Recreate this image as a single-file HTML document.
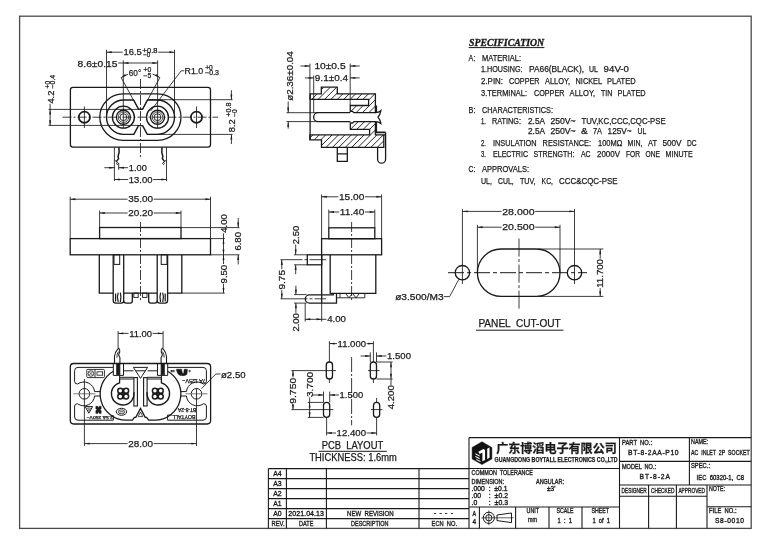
<!DOCTYPE html>
<html lang="zh">
<head>
<meta charset="utf-8">
<title>BT-8-2AA-P10 AC INLET 2P SOCKET</title>
<style>
html,body{margin:0;padding:0;background:#fff;}
body{width:770px;height:544px;overflow:hidden;}
svg{display:block;filter:grayscale(1);}
svg text{font-family:"Liberation Sans","Noto Sans CJK SC",sans-serif;fill:#1a1a1a;stroke:#1a1a1a;stroke-width:0.25px;white-space:pre;}
svg .cn{font-family:"Liberation Sans","Noto Sans CJK SC",sans-serif;font-weight:700;}
svg .tb{stroke-width:0.34px;}
svg .sp{font-family:"Liberation Serif",serif;font-weight:700;font-style:italic;stroke-width:0.35px;}
</style>
</head>
<body>
<svg xml:space="preserve" width="770" height="544" viewBox="0 0 770 544" stroke="#1a1a1a" fill="none" stroke-linecap="butt">
<rect x="0" y="0" width="770" height="544" fill="#ffffff" stroke="none"/>
<rect x="19.6" y="16.2" width="731.6" height="512.2" fill="none" stroke="#4a4a4a" stroke-width="1.3"/>
<g id="view-front">
<rect x="70.4" y="87.4" width="140.1" height="59.8" stroke-width="1.3" fill="none" rx="2.6"/>
<rect x="99.8" y="93.9" width="81.2" height="46.4" stroke-width="1.3" fill="none" rx="23.2"/>
<path d="M133.7,100 L123.7,100 A17.2,17.2 0 0 0 123.7,134.4 L133.8,134.4 L138.5,125.6 L142.6,125.6 L147.3,134.4 L157.3,134.4 A17.2,17.2 0 0 0 157.3,100 L147.4,100 L142.6,109.2 L138.5,109.2 Z" stroke-width="1.4" fill="none" stroke-linejoin="round"/>
<circle cx="123.4" cy="117.2" r="11" stroke-width="1.3" fill="none"/>
<circle cx="123.4" cy="117.2" r="7" stroke-width="1.35" fill="none"/>
<circle cx="123.4" cy="117.2" r="5.2" stroke-width="0.8" fill="none"/>
<circle cx="123.4" cy="117.2" r="3.4" stroke-width="0.9" fill="none"/>
<circle cx="157.5" cy="117.2" r="11" stroke-width="1.3" fill="none"/>
<circle cx="157.5" cy="117.2" r="7" stroke-width="1.35" fill="none"/>
<circle cx="157.5" cy="117.2" r="5.2" stroke-width="0.8" fill="none"/>
<circle cx="157.5" cy="117.2" r="3.4" stroke-width="0.9" fill="none"/>
<circle cx="84.4" cy="117.2" r="5.6" stroke-width="1.7" fill="none"/>
<line x1="84.4" y1="106.5" x2="84.4" y2="128" stroke-width="0.85"/>
<circle cx="196.5" cy="117.2" r="5.6" stroke-width="1.7" fill="none"/>
<line x1="196.5" y1="106.5" x2="196.5" y2="128" stroke-width="0.85"/>
<line x1="62.5" y1="117.2" x2="218" y2="117.2" stroke-width="0.85" stroke-dasharray="9 2 2 2"/>
<line x1="140.5" y1="79" x2="140.5" y2="157.5" stroke-width="0.85" stroke-dasharray="10 2 2 2"/>
<line x1="106.5" y1="49.8" x2="106.5" y2="117.2" stroke-width="0.85"/>
<line x1="174.5" y1="49.8" x2="174.5" y2="117.2" stroke-width="0.85"/>
<line x1="106.5" y1="52.2" x2="122.8" y2="52.2" stroke-width="0.85"/>
<line x1="158.2" y1="52.2" x2="174.5" y2="52.2" stroke-width="0.85"/>
<polygon points="106.5,52.2 111.7,51.25 111.7,53.15" fill="#1a1a1a" stroke="none"/>
<polygon points="174.5,52.2 169.3,53.15 169.3,51.25" fill="#1a1a1a" stroke="none"/>
<text x="123.5" y="55.3" font-size="9.6" textLength="18.3" lengthAdjust="spacingAndGlyphs">16.5</text>
<text x="142.6" y="52.5" font-size="6.4" textLength="14.8" lengthAdjust="spacingAndGlyphs">+0.8</text>
<text x="143.2" y="57.2" font-size="6.4" textLength="7.2" lengthAdjust="spacingAndGlyphs">−0</text>
<text x="77.6" y="66.5" font-size="9.6" textLength="39.9" lengthAdjust="spacingAndGlyphs">8.6±0.15</text>
<line x1="118.2" y1="63" x2="157.6" y2="63" stroke-width="0.85"/>
<line x1="123.3" y1="60.4" x2="123.3" y2="128.6" stroke-width="0.85"/>
<line x1="157.6" y1="60.4" x2="157.6" y2="128.6" stroke-width="0.85"/>
<polygon points="123.3,63 128.5,62.05 128.5,63.95" fill="#1a1a1a" stroke="none"/>
<polygon points="157.6,63 152.4,63.95 152.4,62.05" fill="#1a1a1a" stroke="none"/>
<path d="M121.2,77.6 A36.9,36.9 0 0 1 128,74.3" stroke-width="0.85" fill="none"/>
<path d="M152.6,74.1 A36.9,36.9 0 0 1 159.9,77.6" stroke-width="0.85" fill="none"/>
<polygon points="121.2,77.6 125.13,74.07 126.13,75.68" fill="#1a1a1a" stroke="none"/>
<polygon points="159.9,77.6 154.97,75.68 155.97,74.07" fill="#1a1a1a" stroke="none"/>
<line x1="121.2" y1="77.6" x2="138.5" y2="109.2" stroke-width="0.85"/>
<line x1="159.9" y1="77.6" x2="142.6" y2="109.2" stroke-width="0.85"/>
<text x="128.8" y="76.2" font-size="9.6" textLength="12.4" lengthAdjust="spacingAndGlyphs">60°</text>
<text x="143.4" y="72.4" font-size="6.4" textLength="7.8" lengthAdjust="spacingAndGlyphs">+0</text>
<text x="143.4" y="78.2" font-size="6.4" textLength="7.8" lengthAdjust="spacingAndGlyphs">−5</text>
<line x1="150.6" y1="111" x2="181.2" y2="70.8" stroke-width="0.85"/>
<line x1="181.2" y1="70.8" x2="184.2" y2="70.8" stroke-width="0.85"/>
<text x="184.6" y="74" font-size="9.6" textLength="18.6" lengthAdjust="spacingAndGlyphs">R1.0</text>
<text x="205.2" y="69.5" font-size="6.4" textLength="7.6" lengthAdjust="spacingAndGlyphs">+0</text>
<text x="205.2" y="75.2" font-size="6.4" textLength="13.8" lengthAdjust="spacingAndGlyphs">−0.3</text>
<line x1="48.5" y1="109.4" x2="138.5" y2="109.4" stroke-width="0.85"/>
<line x1="48.5" y1="125.4" x2="138.5" y2="125.4" stroke-width="0.85"/>
<line x1="50.1" y1="103.8" x2="50.1" y2="125.4" stroke-width="0.85"/>
<polygon points="50.1,109.4 51.05,114.6 49.15,114.6" fill="#1a1a1a" stroke="none"/>
<polygon points="50.1,125.4 49.15,120.2 51.05,120.2" fill="#1a1a1a" stroke="none"/>
<text x="53.6" y="103.6" font-size="9.6" textLength="13" lengthAdjust="spacingAndGlyphs" transform="rotate(-90 53.6 103.6)">4.2</text>
<text x="49.6" y="88.4" font-size="6.4" textLength="7.6" lengthAdjust="spacingAndGlyphs" transform="rotate(-90 49.6 88.4)">+0</text>
<text x="54.8" y="88.4" font-size="6.4" textLength="13.6" lengthAdjust="spacingAndGlyphs" transform="rotate(-90 54.8 88.4)">−0.4</text>
<line x1="147.4" y1="99.7" x2="232.6" y2="99.7" stroke-width="0.85"/>
<line x1="147.3" y1="134.4" x2="232.6" y2="134.4" stroke-width="0.85"/>
<line x1="231.4" y1="90.2" x2="231.4" y2="99.7" stroke-width="0.85"/>
<line x1="231.4" y1="134.4" x2="231.4" y2="144" stroke-width="0.85"/>
<polygon points="231.4,99.7 230.45,94.5 232.35,94.5" fill="#1a1a1a" stroke="none"/>
<polygon points="231.4,134.4 232.35,139.6 230.45,139.6" fill="#1a1a1a" stroke="none"/>
<text x="234.7" y="132.2" font-size="9.6" textLength="13" lengthAdjust="spacingAndGlyphs" transform="rotate(-90 234.7 132.2)">8.2</text>
<text x="231.2" y="116.8" font-size="6.4" textLength="14.2" lengthAdjust="spacingAndGlyphs" transform="rotate(-90 231.2 116.8)">+0.8</text>
<text x="237" y="116.8" font-size="6.4" textLength="7.6" lengthAdjust="spacingAndGlyphs" transform="rotate(-90 237 116.8)">−0</text>
<line x1="114.4" y1="147.2" x2="114.4" y2="181" stroke-width="0.85"/>
<line x1="166.5" y1="147.2" x2="166.5" y2="181" stroke-width="0.85"/>
<path d="M118.9,147.2 L119.1,152.5 L118,156.5 L118.6,158.6 L116.4,161.4" stroke-width="1.5" fill="none"/>
<path d="M114.6,160.2 L117.4,162.2 L118.4,163.4 L117.4,164.6 L116.4,163.4 L117.4,162.2" stroke-width="0.9" fill="none"/>
<path d="M162.0,147.2 L161.8,152.5 L162.9,156.5 L162.3,158.6 L164.5,161.4" stroke-width="1.5" fill="none"/>
<path d="M166.3,160.2 L163.5,162.2 L162.5,163.4 L163.5,164.6 L164.5,163.4 L163.5,162.2" stroke-width="0.9" fill="none"/>
<line x1="118.7" y1="163" x2="118.7" y2="169.8" stroke-width="0.85"/>
<line x1="104.3" y1="167.7" x2="114.4" y2="167.7" stroke-width="0.85"/>
<polygon points="114.4,167.7 109.2,168.65 109.2,166.75" fill="#1a1a1a" stroke="none"/>
<line x1="118.7" y1="167.7" x2="128" y2="167.7" stroke-width="0.85"/>
<polygon points="118.7,167.7 123.9,166.75 123.9,168.65" fill="#1a1a1a" stroke="none"/>
<text x="128.8" y="170.7" font-size="9.6" textLength="18" lengthAdjust="spacingAndGlyphs">1.00</text>
<line x1="114.4" y1="179.5" x2="128.2" y2="179.5" stroke-width="0.85"/>
<line x1="153.2" y1="179.5" x2="166.5" y2="179.5" stroke-width="0.85"/>
<polygon points="114.4,179.5 119.6,178.55 119.6,180.45" fill="#1a1a1a" stroke="none"/>
<polygon points="166.5,179.5 161.3,180.45 161.3,178.55" fill="#1a1a1a" stroke="none"/>
<text x="128.8" y="182.6" font-size="9.6" textLength="23.8" lengthAdjust="spacingAndGlyphs">13.00</text>
</g>
<g id="view-section">
<clipPath id="hc1"><path d="M310.1,93.9 L321.3,93.9 L321.3,87.2 L337.3,87.2 L337.3,93.9 L375.4,93.9 L375.4,112.7 L354,112.7 L352.5,111.4 L350.3,111.4 L350.3,105.5 L368.6,105.5 L368.6,99.4 L310.1,99.4 Z"/></clipPath>
<path d="M279.2,112.7 L304.7,87.2 M285.6,112.7 L311.1,87.2 M292,112.7 L317.5,87.2 M298.4,112.7 L323.9,87.2 M304.8,112.7 L330.3,87.2 M311.2,112.7 L336.7,87.2 M317.6,112.7 L343.1,87.2 M324,112.7 L349.5,87.2 M330.4,112.7 L355.9,87.2 M336.8,112.7 L362.3,87.2 M343.2,112.7 L368.7,87.2 M349.6,112.7 L375.1,87.2 M356,112.7 L381.5,87.2 M362.4,112.7 L387.9,87.2 M368.8,112.7 L394.3,87.2 M375.2,112.7 L400.7,87.2 M381.6,112.7 L407.1,87.2" stroke-width="0.95" clip-path="url(#hc1)"/>
<path d="M310.1,93.9 L321.3,93.9 L321.3,87.2 L337.3,87.2 L337.3,93.9 L375.4,93.9 L375.4,112.7 L354,112.7 L352.5,111.4 L350.3,111.4 L350.3,105.5 L368.6,105.5 L368.6,99.4 L310.1,99.4 Z" stroke-width="1.3" stroke-linejoin="miter"/>
<clipPath id="hc2"><path d="M354,121.6 L375.4,121.6 L375.4,134.9 L383.8,134.9 L383.8,147.3 L321.5,147.3 L321.5,139.9 L309.9,139.9 L309.9,134.9 L369.6,134.9 L369.6,129.4 L350.3,129.4 L350.3,123 L352.5,123 Z"/></clipPath>
<path d="M281.3,147.3 L307,121.6 M287.7,147.3 L313.4,121.6 M294.1,147.3 L319.8,121.6 M300.5,147.3 L326.2,121.6 M306.9,147.3 L332.6,121.6 M313.3,147.3 L339,121.6 M319.7,147.3 L345.4,121.6 M326.1,147.3 L351.8,121.6 M332.5,147.3 L358.2,121.6 M338.9,147.3 L364.6,121.6 M345.3,147.3 L371,121.6 M351.7,147.3 L377.4,121.6 M358.1,147.3 L383.8,121.6 M364.5,147.3 L390.2,121.6 M370.9,147.3 L396.6,121.6 M377.3,147.3 L403,121.6 M383.7,147.3 L409.4,121.6 M390.1,147.3 L415.8,121.6" stroke-width="0.95" clip-path="url(#hc2)"/>
<path d="M354,121.6 L375.4,121.6 L375.4,134.9 L383.8,134.9 L383.8,147.3 L321.5,147.3 L321.5,139.9 L309.9,139.9 L309.9,134.9 L369.6,134.9 L369.6,129.4 L350.3,129.4 L350.3,123 L352.5,123 Z" stroke-width="1.3" stroke-linejoin="miter"/>
<line x1="310.1" y1="93.9" x2="310.1" y2="139.9" stroke-width="1.3"/>
<path d="M350.3,112.7 L318.1,112.7 A4.45,4.45 0 0 0 318.1,121.6 L350.3,121.6" stroke-width="1.3" fill="none"/>
<path d="M375.4,112.7 C377.8,112.7 379.3,112.2 380.8,110.8 C380.3,113.6 379.3,115.7 378,117.1 C379.3,118.5 380.3,120.7 380.8,123.4 C379.3,122.1 377.8,121.6 375.4,121.6" stroke-width="1.3" fill="none"/>
<path d="M376.2,105.5 L376.2,112.2 M376.2,122 L376.2,132.4 L385.6,132.4" stroke-width="1.8" fill="none"/>
<path d="M337.3,147.3 L337.3,161.4 L347.3,161.4 L347.3,147.3 M337.3,153.8 L347.3,153.8" stroke-width="1.3" fill="none"/>
<path d="M377.6,147.3 L377.6,159.2 A4,4 0 0 0 385.6,159.2 L385.6,132.4" stroke-width="1.3" fill="none"/>
<line x1="383.8" y1="134.9" x2="385.6" y2="134.9" stroke-width="1.3"/>
<line x1="286.5" y1="112.7" x2="318" y2="112.7" stroke-width="0.85"/>
<line x1="286.5" y1="121.6" x2="318" y2="121.6" stroke-width="0.85"/>
<line x1="288.2" y1="101.5" x2="288.2" y2="112.7" stroke-width="0.85"/>
<line x1="288.2" y1="121.6" x2="288.2" y2="128.6" stroke-width="0.85"/>
<polygon points="288.2,112.7 287.25,107.5 289.15,107.5" fill="#1a1a1a" stroke="none"/>
<polygon points="288.2,121.6 289.15,126.8 287.25,126.8" fill="#1a1a1a" stroke="none"/>
<text x="293.2" y="100.8" font-size="9.6" textLength="49.6" lengthAdjust="spacingAndGlyphs" transform="rotate(-90 293.2 100.8)">ø2.36±0.04</text>
<line x1="309.9" y1="63.6" x2="309.9" y2="93.9" stroke-width="0.85"/>
<line x1="350.2" y1="63.6" x2="350.2" y2="105.5" stroke-width="0.85"/>
<line x1="300.4" y1="66" x2="309.9" y2="66" stroke-width="0.85"/>
<line x1="350.2" y1="66" x2="359.7" y2="66" stroke-width="0.85"/>
<polygon points="309.9,66 304.7,66.95 304.7,65.05" fill="#1a1a1a" stroke="none"/>
<polygon points="350.2,66 355.4,65.05 355.4,66.95" fill="#1a1a1a" stroke="none"/>
<text x="314.4" y="69" font-size="9.6" textLength="31.2" lengthAdjust="spacingAndGlyphs">10±0.5</text>
<line x1="313.7" y1="75.5" x2="313.7" y2="113" stroke-width="0.85"/>
<line x1="305" y1="77.9" x2="313.7" y2="77.9" stroke-width="0.85"/>
<line x1="350.2" y1="77.9" x2="359.7" y2="77.9" stroke-width="0.85"/>
<polygon points="313.7,77.9 308.5,78.85 308.5,76.95" fill="#1a1a1a" stroke="none"/>
<polygon points="350.2,77.9 355.4,76.95 355.4,78.85" fill="#1a1a1a" stroke="none"/>
<text x="314.8" y="80.9" font-size="9.6" textLength="33.4" lengthAdjust="spacingAndGlyphs">9.1±0.4</text>
</g>
<g id="view-top">
<rect x="99.6" y="227.5" width="81.4" height="11.1" stroke-width="1.3" fill="none"/>
<rect x="70.2" y="238.6" width="140.3" height="16.2" stroke-width="1.3" fill="none"/>
<path d="M99.3,254.8 L99.3,293.1 L113.2,293.1 M113.2,254.8 L113.2,300.5 Q113.2,303.1 115.8,303.1 L121.2,303.1 Q123.7,303.1 123.7,300.5 M123.7,254.8 L123.7,300.5 Q123.7,303.1 126.3,303.1 L130.2,303.1 Q132.3,303.1 132.3,301 L132.3,293.1 M148.7,293.1 L148.7,301 Q148.7,303.1 150.8,303.1 L154.6,303.1 Q157.2,303.1 157.2,300.5 L157.2,254.8 M157.2,300.5 Q157.2,303.1 159.8,303.1 L165,303.1 Q167.6,303.1 167.6,300.5 L167.6,254.8 M167.6,293.1 L181.8,293.1 L181.8,254.8 M123.7,293.1 L157.2,293.1" stroke-width="1.3" fill="none"/>
<rect x="114" y="254.8" width="5.7" height="9.6" stroke-width="1" fill="none"/>
<rect x="161.2" y="254.8" width="5.8" height="9.6" stroke-width="1" fill="none"/>
<rect x="133.8" y="293.1" width="4.4" height="4.3" stroke-width="0.9" fill="none"/>
<rect x="142.6" y="293.1" width="4.4" height="4.3" stroke-width="0.9" fill="none"/>
<path d="M115.6,293.4 L115.6,301.5 M118.2,292.6 Q116.6,297 118.2,302 M120.3,292.6 Q121.6,297 120.3,302" stroke-width="1.2" fill="none"/>
<path d="M165.2,293.4 L165.2,301.5 M162.7,292.6 Q164.2,297 162.7,302 M160.6,292.6 Q159.3,297 160.6,302" stroke-width="1.2" fill="none"/>
<line x1="140.5" y1="222" x2="140.5" y2="300.5" stroke-width="0.85" stroke-dasharray="10 2 2 2"/>
<line x1="70.2" y1="196.8" x2="70.2" y2="238.6" stroke-width="0.85"/>
<line x1="210.5" y1="196.8" x2="210.5" y2="238.6" stroke-width="0.85"/>
<line x1="70.2" y1="199.2" x2="127.6" y2="199.2" stroke-width="0.85"/>
<line x1="153.6" y1="199.2" x2="210.5" y2="199.2" stroke-width="0.85"/>
<polygon points="70.2,199.2 75.4,198.25 75.4,200.15" fill="#1a1a1a" stroke="none"/>
<polygon points="210.5,199.2 205.3,200.15 205.3,198.25" fill="#1a1a1a" stroke="none"/>
<text x="128.2" y="202.3" font-size="9.6" textLength="24.8" lengthAdjust="spacingAndGlyphs">35.00</text>
<line x1="99.6" y1="210.6" x2="99.6" y2="227.5" stroke-width="0.85"/>
<line x1="181" y1="210.6" x2="181" y2="227.5" stroke-width="0.85"/>
<line x1="99.6" y1="213" x2="127.6" y2="213" stroke-width="0.85"/>
<line x1="153.6" y1="213" x2="181" y2="213" stroke-width="0.85"/>
<polygon points="99.6,213 104.8,212.05 104.8,213.95" fill="#1a1a1a" stroke="none"/>
<polygon points="181,213 175.8,213.95 175.8,212.05" fill="#1a1a1a" stroke="none"/>
<text x="128.2" y="216.1" font-size="9.6" textLength="24.8" lengthAdjust="spacingAndGlyphs">20.20</text>
<line x1="181" y1="227.6" x2="239.5" y2="227.6" stroke-width="0.85"/>
<line x1="210.5" y1="238.6" x2="224.8" y2="238.6" stroke-width="0.85"/>
<line x1="210.5" y1="254.8" x2="239.5" y2="254.8" stroke-width="0.85"/>
<line x1="181.8" y1="293.1" x2="224.8" y2="293.1" stroke-width="0.85"/>
<line x1="223.5" y1="233.4" x2="223.5" y2="264" stroke-width="0.85"/>
<line x1="223.5" y1="283.8" x2="223.5" y2="293.1" stroke-width="0.85"/>
<polygon points="223.5,238.6 224.45,243.8 222.55,243.8" fill="#1a1a1a" stroke="none"/>
<polygon points="223.5,254.8 222.55,249.6 224.45,249.6" fill="#1a1a1a" stroke="none"/>
<polygon points="223.5,254.8 224.45,260 222.55,260" fill="#1a1a1a" stroke="none"/>
<polygon points="223.5,293.1 222.55,287.9 224.45,287.9" fill="#1a1a1a" stroke="none"/>
<text x="226.8" y="232.8" font-size="9.6" textLength="18.6" lengthAdjust="spacingAndGlyphs" transform="rotate(-90 226.8 232.8)">4.00</text>
<text x="226.8" y="283.4" font-size="9.6" textLength="18.6" lengthAdjust="spacingAndGlyphs" transform="rotate(-90 226.8 283.4)">9.50</text>
<line x1="238.2" y1="218" x2="238.2" y2="227.6" stroke-width="0.85"/>
<line x1="238.2" y1="254.8" x2="238.2" y2="264.4" stroke-width="0.85"/>
<polygon points="238.2,227.6 237.25,222.4 239.15,222.4" fill="#1a1a1a" stroke="none"/>
<polygon points="238.2,254.8 239.15,260 237.25,260" fill="#1a1a1a" stroke="none"/>
<text x="241.4" y="250.6" font-size="9.6" textLength="18.6" lengthAdjust="spacingAndGlyphs" transform="rotate(-90 241.4 250.6)">6.80</text>
</g>
<g id="view-side">
<rect x="328.8" y="227.8" width="46" height="10.9" stroke-width="1.3" fill="none"/>
<rect x="321.6" y="238.7" width="60" height="16.1" stroke-width="1.3" fill="none"/>
<path d="M330.2,254.8 L330.2,293.3 L375.8,293.3 L375.8,254.8" stroke-width="1.3" fill="none"/>
<line x1="321.7" y1="254.8" x2="321.7" y2="303.1" stroke-width="1.3"/>
<rect x="307.3" y="254.8" width="14.4" height="10" stroke-width="1.3" fill="none"/>
<path d="M321.7,303.1 L309.4,303.1 A4.1,4.1 0 0 1 309.4,294.9 L333.3,294.9 L333.3,293.3 M336.5,293.3 L336.5,303.1 L321.7,303.1" stroke-width="1.3" fill="none"/>
<path d="M336.5,297.8 L364.8,297.8 L364.8,293.3 M340,293.3 L340,297.8 M345.5,293.3 L349,297.8 L352.5,293.3 M352.5,293.3 L356,297.8 L359.5,293.3" stroke-width="0.9" fill="none"/>
<line x1="351.6" y1="222" x2="351.6" y2="302" stroke-width="0.85" stroke-dasharray="10 2 2 2"/>
<line x1="280.5" y1="259.7" x2="326" y2="259.7" stroke-width="0.85" stroke-dasharray="22 2 3 2"/>
<line x1="280.5" y1="298.8" x2="326" y2="298.8" stroke-width="0.85" stroke-dasharray="27 2 3 2"/>
<line x1="321.6" y1="194.4" x2="321.6" y2="238.7" stroke-width="0.85"/>
<line x1="381.6" y1="194.4" x2="381.6" y2="238.7" stroke-width="0.85"/>
<line x1="321.6" y1="196.8" x2="338.4" y2="196.8" stroke-width="0.85"/>
<line x1="364.9" y1="196.8" x2="381.6" y2="196.8" stroke-width="0.85"/>
<polygon points="321.6,196.8 326.8,195.85 326.8,197.75" fill="#1a1a1a" stroke="none"/>
<polygon points="381.6,196.8 376.4,197.75 376.4,195.85" fill="#1a1a1a" stroke="none"/>
<text x="339" y="199.9" font-size="9.6" textLength="25.3" lengthAdjust="spacingAndGlyphs">15.00</text>
<line x1="328.8" y1="209.6" x2="328.8" y2="227.8" stroke-width="0.85"/>
<line x1="374.8" y1="209.6" x2="374.8" y2="227.8" stroke-width="0.85"/>
<line x1="328.8" y1="212" x2="339.2" y2="212" stroke-width="0.85"/>
<line x1="364.9" y1="212" x2="374.8" y2="212" stroke-width="0.85"/>
<polygon points="328.8,212 334,211.05 334,212.95" fill="#1a1a1a" stroke="none"/>
<polygon points="374.8,212 369.6,212.95 369.6,211.05" fill="#1a1a1a" stroke="none"/>
<text x="339.8" y="215.1" font-size="9.6" textLength="24.5" lengthAdjust="spacingAndGlyphs">11.40</text>
<line x1="294" y1="254.8" x2="307.3" y2="254.8" stroke-width="0.85"/>
<line x1="294" y1="264.8" x2="307.3" y2="264.8" stroke-width="0.85"/>
<line x1="295.7" y1="244.6" x2="295.7" y2="254.8" stroke-width="0.85"/>
<line x1="295.7" y1="264.8" x2="295.7" y2="274.2" stroke-width="0.85"/>
<polygon points="295.7,254.8 294.75,249.6 296.65,249.6" fill="#1a1a1a" stroke="none"/>
<polygon points="295.7,264.8 296.65,270 294.75,270" fill="#1a1a1a" stroke="none"/>
<text x="298.9" y="244.2" font-size="9.6" textLength="18.4" lengthAdjust="spacingAndGlyphs" transform="rotate(-90 298.9 244.2)">2.50</text>
<line x1="281.8" y1="259.7" x2="281.8" y2="269.2" stroke-width="0.85"/>
<line x1="281.8" y1="290" x2="281.8" y2="298.8" stroke-width="0.85"/>
<polygon points="281.8,259.7 282.75,264.9 280.85,264.9" fill="#1a1a1a" stroke="none"/>
<polygon points="281.8,298.8 280.85,293.6 282.75,293.6" fill="#1a1a1a" stroke="none"/>
<text x="285" y="289.6" font-size="9.6" textLength="19.6" lengthAdjust="spacingAndGlyphs" transform="rotate(-90 285 289.6)">9.75</text>
<line x1="294" y1="294.6" x2="306.5" y2="294.6" stroke-width="0.85"/>
<line x1="294" y1="303.1" x2="306.5" y2="303.1" stroke-width="0.85"/>
<line x1="295.9" y1="285.6" x2="295.9" y2="294.6" stroke-width="0.85"/>
<line x1="295.9" y1="303.1" x2="295.9" y2="312.8" stroke-width="0.85"/>
<polygon points="295.9,294.6 294.95,289.4 296.85,289.4" fill="#1a1a1a" stroke="none"/>
<polygon points="295.9,303.1 296.85,308.3 294.95,308.3" fill="#1a1a1a" stroke="none"/>
<text x="299.1" y="331.6" font-size="9.6" textLength="18.4" lengthAdjust="spacingAndGlyphs" transform="rotate(-90 299.1 331.6)">2.00</text>
<line x1="305.2" y1="303.1" x2="305.2" y2="321.6" stroke-width="0.85"/>
<line x1="321.7" y1="303.1" x2="321.7" y2="321.6" stroke-width="0.85"/>
<line x1="305.2" y1="319.3" x2="326.4" y2="319.3" stroke-width="0.85"/>
<polygon points="305.2,319.3 310.4,318.35 310.4,320.25" fill="#1a1a1a" stroke="none"/>
<polygon points="321.7,319.3 316.5,320.25 316.5,318.35" fill="#1a1a1a" stroke="none"/>
<text x="327.2" y="322.3" font-size="9.6" textLength="18.8" lengthAdjust="spacingAndGlyphs">4.00</text>
</g>
<g id="view-panel">
<rect x="477.4" y="249" width="82.6" height="47.4" stroke-width="1.3" fill="none" rx="23.7"/>
<circle cx="462.4" cy="272.7" r="7.2" stroke-width="1.3" fill="none"/>
<circle cx="574.5" cy="272.7" r="7.2" stroke-width="1.3" fill="none"/>
<line x1="448" y1="272.7" x2="587" y2="272.7" stroke-width="1" stroke-dasharray="16 3 4 3"/>
<line x1="519" y1="238.6" x2="519" y2="309.6" stroke-width="0.85" stroke-dasharray="18 2.5 3 2.5"/>
<line x1="462.4" y1="209" x2="462.4" y2="284" stroke-width="0.85"/>
<line x1="574.5" y1="209" x2="574.5" y2="284" stroke-width="0.85"/>
<line x1="462.4" y1="211.4" x2="501.6" y2="211.4" stroke-width="0.85"/>
<line x1="535.2" y1="211.4" x2="574.5" y2="211.4" stroke-width="0.85"/>
<polygon points="462.4,211.4 467.6,210.45 467.6,212.35" fill="#1a1a1a" stroke="none"/>
<polygon points="574.5,211.4 569.3,212.35 569.3,210.45" fill="#1a1a1a" stroke="none"/>
<text x="502.2" y="214.5" font-size="9.6" textLength="32.4" lengthAdjust="spacingAndGlyphs">28.000</text>
<line x1="477.4" y1="224.8" x2="477.4" y2="272.7" stroke-width="0.85"/>
<line x1="560" y1="224.8" x2="560" y2="272.7" stroke-width="0.85"/>
<line x1="477.4" y1="227.2" x2="501.6" y2="227.2" stroke-width="0.85"/>
<line x1="535.2" y1="227.2" x2="560" y2="227.2" stroke-width="0.85"/>
<polygon points="477.4,227.2 482.6,226.25 482.6,228.15" fill="#1a1a1a" stroke="none"/>
<polygon points="560,227.2 554.8,228.15 554.8,226.25" fill="#1a1a1a" stroke="none"/>
<text x="502.2" y="230.3" font-size="9.6" textLength="32.4" lengthAdjust="spacingAndGlyphs">20.500</text>
<line x1="538" y1="249" x2="603.4" y2="249" stroke-width="0.85"/>
<line x1="538" y1="296.4" x2="603.4" y2="296.4" stroke-width="0.85"/>
<line x1="600.2" y1="249" x2="600.2" y2="258.6" stroke-width="0.85"/>
<line x1="600.2" y1="288.2" x2="600.2" y2="296.4" stroke-width="0.85"/>
<polygon points="600.2,249 601.15,254.2 599.25,254.2" fill="#1a1a1a" stroke="none"/>
<polygon points="600.2,296.4 599.25,291.2 601.15,291.2" fill="#1a1a1a" stroke="none"/>
<text x="603.3" y="287.8" font-size="9.6" textLength="28.8" lengthAdjust="spacingAndGlyphs" transform="rotate(-90 603.3 287.8)">11.700</text>
<text x="395.2" y="299.5" font-size="9.6" textLength="48.4" lengthAdjust="spacingAndGlyphs">ø3.500/M3</text>
<path d="M443.8,296.6 L449.6,296.6 L458.8,279.4" stroke-width="0.85" fill="none"/>
<text x="478.4" y="326.7" font-size="10.2" textLength="82.4" lengthAdjust="spacingAndGlyphs">PANEL  CUT-OUT</text>
<line x1="476" y1="330.2" x2="563.4" y2="330.2" stroke-width="1"/>
</g>
<g id="view-pcb">
<rect x="326.3" y="362" width="6.2" height="17" stroke-width="1.3" fill="none" rx="3.1"/>
<rect x="370.3" y="362" width="6.2" height="17" stroke-width="1.3" fill="none" rx="3.1"/>
<rect x="323.5" y="402.4" width="6.2" height="15" stroke-width="1.3" fill="none" rx="3.1"/>
<rect x="373.5" y="402.4" width="6.2" height="15" stroke-width="1.3" fill="none" rx="3.1"/>
<line x1="351.6" y1="357" x2="351.6" y2="425.4" stroke-width="0.85" stroke-dasharray="15 2 2 2"/>
<line x1="322" y1="370.6" x2="336" y2="370.6" stroke-width="0.85"/>
<line x1="368" y1="370.6" x2="379.6" y2="370.6" stroke-width="0.85"/>
<line x1="320" y1="409.6" x2="333.4" y2="409.6" stroke-width="0.85"/>
<line x1="371" y1="409.6" x2="382.4" y2="409.6" stroke-width="0.85"/>
<line x1="329.4" y1="341.2" x2="329.4" y2="362" stroke-width="0.85"/>
<line x1="329.4" y1="379" x2="329.4" y2="383" stroke-width="0.85"/>
<line x1="373.4" y1="341.2" x2="373.4" y2="362" stroke-width="0.85"/>
<line x1="373.4" y1="379" x2="373.4" y2="383" stroke-width="0.85"/>
<line x1="376.6" y1="398" x2="376.6" y2="402.4" stroke-width="0.85"/>
<line x1="376.6" y1="417.4" x2="376.6" y2="435.4" stroke-width="0.85"/>
<line x1="326.6" y1="417.4" x2="326.6" y2="435.4" stroke-width="0.85"/>
<line x1="329.4" y1="343.6" x2="337" y2="343.6" stroke-width="0.85"/>
<line x1="366.6" y1="343.6" x2="373.4" y2="343.6" stroke-width="0.85"/>
<polygon points="329.4,343.6 334.6,342.65 334.6,344.55" fill="#1a1a1a" stroke="none"/>
<polygon points="373.4,343.6 368.2,344.55 368.2,342.65" fill="#1a1a1a" stroke="none"/>
<text x="337.6" y="346.7" font-size="9.6" textLength="28.4" lengthAdjust="spacingAndGlyphs">11.000</text>
<line x1="326.6" y1="433" x2="336" y2="433" stroke-width="0.85"/>
<line x1="366.6" y1="433" x2="376.6" y2="433" stroke-width="0.85"/>
<polygon points="326.6,433 331.8,432.05 331.8,433.95" fill="#1a1a1a" stroke="none"/>
<polygon points="376.6,433 371.4,433.95 371.4,432.05" fill="#1a1a1a" stroke="none"/>
<text x="336.6" y="436.1" font-size="9.6" textLength="29.4" lengthAdjust="spacingAndGlyphs">12.400</text>
<line x1="370.3" y1="352.4" x2="370.3" y2="362" stroke-width="0.85"/>
<line x1="376.5" y1="352.4" x2="376.5" y2="362" stroke-width="0.85"/>
<line x1="360.6" y1="356" x2="370.3" y2="356" stroke-width="0.85"/>
<polygon points="370.3,356 365.1,356.95 365.1,355.05" fill="#1a1a1a" stroke="none"/>
<line x1="376.5" y1="356" x2="386.4" y2="356" stroke-width="0.85"/>
<polygon points="376.5,356 381.7,355.05 381.7,356.95" fill="#1a1a1a" stroke="none"/>
<text x="387" y="359" font-size="9.6" textLength="24" lengthAdjust="spacingAndGlyphs">1.500</text>
<line x1="376.5" y1="362" x2="392.6" y2="362" stroke-width="0.85"/>
<line x1="376.5" y1="379" x2="392.6" y2="379" stroke-width="0.85"/>
<line x1="391" y1="362" x2="391" y2="385" stroke-width="0.85"/>
<polygon points="391,362 391.95,367.2 390.05,367.2" fill="#1a1a1a" stroke="none"/>
<polygon points="391,379 390.05,373.8 391.95,373.8" fill="#1a1a1a" stroke="none"/>
<text x="394.2" y="409.2" font-size="9.6" textLength="24" lengthAdjust="spacingAndGlyphs" transform="rotate(-90 394.2 409.2)">4.200</text>
<line x1="291.4" y1="370.6" x2="322" y2="370.6" stroke-width="0.85"/>
<line x1="291.4" y1="409.6" x2="320" y2="409.6" stroke-width="0.85"/>
<line x1="293" y1="370.6" x2="293" y2="377.4" stroke-width="0.85"/>
<line x1="293" y1="404" x2="293" y2="409.6" stroke-width="0.85"/>
<polygon points="293,370.6 293.95,375.8 292.05,375.8" fill="#1a1a1a" stroke="none"/>
<polygon points="293,409.6 292.05,404.4 293.95,404.4" fill="#1a1a1a" stroke="none"/>
<text x="296.4" y="403.8" font-size="9.6" textLength="26" lengthAdjust="spacingAndGlyphs" transform="rotate(-90 296.4 403.8)">9.750</text>
<line x1="307.8" y1="402.4" x2="323.5" y2="402.4" stroke-width="0.85"/>
<line x1="307.8" y1="417.4" x2="323.5" y2="417.4" stroke-width="0.85"/>
<line x1="309.6" y1="397.4" x2="309.6" y2="417.4" stroke-width="0.85"/>
<polygon points="309.6,402.4 310.55,407.6 308.65,407.6" fill="#1a1a1a" stroke="none"/>
<polygon points="309.6,417.4 308.65,412.2 310.55,412.2" fill="#1a1a1a" stroke="none"/>
<text x="312.8" y="397" font-size="9.6" textLength="25" lengthAdjust="spacingAndGlyphs" transform="rotate(-90 312.8 397)">3.700</text>
<line x1="323.5" y1="391.6" x2="323.5" y2="402.4" stroke-width="0.85"/>
<line x1="329.7" y1="391.6" x2="329.7" y2="402.4" stroke-width="0.85"/>
<line x1="313" y1="395" x2="323.5" y2="395" stroke-width="0.85"/>
<polygon points="323.5,395 318.3,395.95 318.3,394.05" fill="#1a1a1a" stroke="none"/>
<line x1="329.7" y1="395" x2="339" y2="395" stroke-width="0.85"/>
<polygon points="329.7,395 334.9,394.05 334.9,395.95" fill="#1a1a1a" stroke="none"/>
<text x="339.6" y="398" font-size="9.6" textLength="23.6" lengthAdjust="spacingAndGlyphs">1.500</text>
<text x="321.8" y="449" font-size="10.2" textLength="61.4" lengthAdjust="spacingAndGlyphs">PCB  LAYOUT</text>
<line x1="318.6" y1="451.3" x2="386.8" y2="451.3" stroke-width="1"/>
<text x="309.4" y="461.2" font-size="10.2" textLength="87.4" lengthAdjust="spacingAndGlyphs">THICKNESS: 1.6mm</text>
</g>
<g id="view-rear">
<rect x="70.3" y="363.5" width="140.3" height="60.5" stroke-width="1.3" fill="none" rx="3.4"/>
<path d="M113.2,367.4 L78,367.4 Q74.6,367.4 74.6,370.6 L74.6,381.6 Q74.8,384.2 77.6,384 A10.8,10.8 0 0 1 94.6,391.6 L100.6,391.6 M100.6,396 L94.6,396 A10.8,10.8 0 0 1 77.6,403.8 Q74.8,403.6 74.6,406 L74.6,417 Q74.6,420.2 78,420.2 L113.4,420.2 M167.7,367.4 L203,367.4 Q206.4,367.4 206.4,370.6 L206.4,381.6 Q206.2,384.2 203.4,384 A10.8,10.8 0 0 0 186.4,391.6 L180.4,391.6 M180.4,396 L186.4,396 A10.8,10.8 0 0 0 203.4,403.8 Q206.2,403.6 206.4,406 L206.4,417 Q206.4,420.2 203,420.2 L167.6,420.2" stroke-width="1" fill="none"/>
<path d="M113.4,371.2 A26.2,26.2 0 0 0 126.3,420.2 L132.4,420.2 L134.4,417.4 L135.8,417.4 L140.5,408.4 L145.2,417.4 L146.6,417.4 L148.6,420.2 L154.7,420.2 A26.2,26.2 0 0 0 167.6,371.2" stroke-width="1.3" fill="none"/>
<path d="M138.2,416.6 L140.5,412 L142.8,416.6 Z" stroke-width="0.8" fill="none"/>
<path d="M123.6,370.8 L133.4,370.8 M147.6,370.8 L157.4,370.8 M133.4,367.4 L147.6,367.4 L142.4,375.4 L140.5,378.4 L138.6,375.4 Z M135.6,370.8 L145.4,370.8" stroke-width="1" fill="none"/>
<path d="M119.6,375.4 L119.6,379 L133.9,379 M147.1,379 L161.4,379 L161.4,375.4 M119.6,377.3 L133.9,377.3 M147.1,377.3 L161.4,377.3" stroke-width="1" fill="none"/>
<path d="M119.6,379 L119.6,382.8 A11.3,11.3 0 1 0 133.9,392.1" stroke-width="1.3" fill="none"/>
<path d="M161.4,379 L161.4,382.8 A11.3,11.3 0 1 1 147.1,392.1" stroke-width="1.3" fill="none"/>
<rect x="133.9" y="377.6" width="3.5" height="28.4" stroke-width="1.1" fill="none"/>
<rect x="143.6" y="377.6" width="3.5" height="28.4" stroke-width="1.1" fill="none"/>
<circle cx="120.3" cy="390.8" r="2.5" stroke-width="1.5" fill="none"/>
<circle cx="126.1" cy="390.8" r="2.5" stroke-width="1.5" fill="none"/>
<circle cx="120.3" cy="396.6" r="2.5" stroke-width="1.5" fill="none"/>
<circle cx="126.1" cy="396.6" r="2.5" stroke-width="1.5" fill="none"/>
<path d="M117.6,393.7 L128.8,393.7 M123.2,388.1 L123.2,399.3" stroke-width="0.9" fill="none"/>
<circle cx="123.2" cy="393.7" r="1.2" stroke-width="0.8" fill="none"/>
<circle cx="154.9" cy="390.8" r="2.5" stroke-width="1.5" fill="none"/>
<circle cx="160.7" cy="390.8" r="2.5" stroke-width="1.5" fill="none"/>
<circle cx="154.9" cy="396.6" r="2.5" stroke-width="1.5" fill="none"/>
<circle cx="160.7" cy="396.6" r="2.5" stroke-width="1.5" fill="none"/>
<path d="M152.2,393.7 L163.4,393.7 M157.8,388.1 L157.8,399.3" stroke-width="0.9" fill="none"/>
<circle cx="157.8" cy="393.7" r="1.2" stroke-width="0.8" fill="none"/>
<circle cx="84.4" cy="393.8" r="5.3" stroke-width="1" fill="none"/>
<line x1="73.4" y1="393.8" x2="95.4" y2="393.8" stroke-width="1" stroke="#777"/>
<circle cx="196.5" cy="393.8" r="5.3" stroke-width="1" fill="none"/>
<line x1="185.5" y1="393.8" x2="207.5" y2="393.8" stroke-width="1" stroke="#777"/>
<path d="M113.3,363.5 L113.3,375.4 L123.5,375.4 L123.5,363.5" stroke-width="1" fill="none"/>
<rect x="116.7" y="364" width="3.2" height="10.6" stroke-width="0.8" fill="#1a1a1a"/>
<path d="M114.5,363.5 L114.5,356.5 Q114.7,352.5 117.7,349.2 L119.1,348 M119.9,363.5 L119.9,357.5 Q117.7,354.5 119.7,352.4 Q120.5,350.5 118.7,348" stroke-width="1.1" fill="none"/>
<path d="M116.9,357.6 Q116.7,354 118.5,351.6" stroke-width="0.9" fill="none"/>
<path d="M167.7,363.5 L167.7,375.4 L157.5,375.4 L157.5,363.5" stroke-width="1" fill="none"/>
<rect x="161.1" y="364" width="3.2" height="10.6" stroke-width="0.8" fill="#1a1a1a"/>
<path d="M166.5,363.5 L166.5,356.5 Q166.3,352.5 163.3,349.2 L161.9,348 M161.1,363.5 L161.1,357.5 Q163.3,354.5 161.3,352.4 Q160.5,350.5 162.3,348" stroke-width="1.1" fill="none"/>
<path d="M164.1,357.6 Q164.3,354 162.5,351.6" stroke-width="0.9" fill="none"/>
<rect x="86.8" y="369.4" width="17.6" height="8.2" stroke-width="0.9" fill="none" rx="1"/>
<line x1="95" y1="369.4" x2="95" y2="377.6" stroke-width="0.9"/>
<circle cx="90.9" cy="373.5" r="2.8" stroke-width="0.8" fill="none"/>
<path d="M88.9,371.5 L92.9,375.5 M92.9,371.5 L88.9,375.5" stroke-width="0.7" fill="none"/>
<rect x="97" y="371.8" width="5.6" height="3.4" stroke-width="0.8" fill="none"/>
<path d="M85.2,406.6 L92.6,406.6 L88.9,413.2 Z" stroke-width="1" fill="none"/>
<path d="M87.6,408 L90.4,408 L89,410.8 Z" stroke-width="0.6" fill="none"/>
<path d="M95.8,406.2 L97.8,406.2 L98.5,408 L99.2,406.2 L101.2,406.2 L101.2,409 L99.6,409.8 L101.2,410.6 L101.2,413.4 L99.2,413.4 L98.5,411.6 L97.8,413.4 L95.8,413.4 L95.8,410.6 L97.4,409.8 L95.8,409 Z" stroke-width="0.4" fill="#1a1a1a"/>
<ellipse cx="121.5" cy="411.8" rx="5.2" ry="3.5" stroke-width="1"/>
<ellipse cx="121.5" cy="411.8" rx="3.3" ry="2" stroke-width="0.8"/>
<line x1="119.4" y1="411.8" x2="123.6" y2="411.8" stroke-width="0.8"/>
<path d="M113.4,420.2 L113.4,415.6 L111.6,415.6" stroke-width="0.9" fill="none"/>
<path d="M167.6,420.2 L167.6,415 L172,415" stroke-width="0.9" fill="none"/>
<path d="M176.4,369.2 L181.6,369.2 L182.2,372.8 Q183,374 183.8,372.8 L184.2,369.2 L187.4,369.2 L187,374.2 Q185,376.2 181,375.6 Q177.2,375 176.4,369.2 Z" stroke-width="0.5" fill="#1a1a1a"/>
<text x="174.6" y="369.6" font-size="3.4" transform="rotate(180 174.6 369.6)" font-weight="700">us</text>
<text x="190.4" y="370" font-size="3.4" transform="rotate(180 190.4 370)" font-weight="700">c</text>
<text x="205.6" y="378.6" font-size="4.6" textLength="23.4" lengthAdjust="spacingAndGlyphs" transform="rotate(180 205.6 378.6)">7A 125V~</text>
<text x="196.2" y="407.6" font-size="4.6" textLength="18.2" lengthAdjust="spacingAndGlyphs" transform="rotate(180 196.2 407.6)">BT-8-2A</text>
<text x="195.6" y="415" font-size="4.8" textLength="23.4" lengthAdjust="spacingAndGlyphs" transform="rotate(180 195.6 415)">BOYTALL</text>
<text x="113" y="415.8" font-size="4.4" textLength="26.6" lengthAdjust="spacingAndGlyphs" transform="rotate(180 113 415.8)">2.5A 250V~</text>
<line x1="118.1" y1="331" x2="118.1" y2="348" stroke-width="0.85"/>
<line x1="163.1" y1="331" x2="163.1" y2="348" stroke-width="0.85"/>
<line x1="118.1" y1="333.4" x2="128.6" y2="333.4" stroke-width="0.85"/>
<line x1="152.6" y1="333.4" x2="163.1" y2="333.4" stroke-width="0.85"/>
<polygon points="118.1,333.4 123.3,332.45 123.3,334.35" fill="#1a1a1a" stroke="none"/>
<polygon points="163.1,333.4 157.9,334.35 157.9,332.45" fill="#1a1a1a" stroke="none"/>
<text x="129.2" y="336.5" font-size="9.6" textLength="22.8" lengthAdjust="spacingAndGlyphs">11.00</text>
<path d="M201.6,388.6 L215.8,374 L220.4,374" stroke-width="0.85" fill="none"/>
<text x="221" y="378.2" font-size="9.6" textLength="24.6" lengthAdjust="spacingAndGlyphs">ø2.50</text>
<line x1="84.4" y1="379" x2="84.4" y2="446" stroke-width="0.85"/>
<line x1="196.5" y1="388.5" x2="196.5" y2="446" stroke-width="0.85"/>
<line x1="84.4" y1="443.6" x2="127.6" y2="443.6" stroke-width="0.85"/>
<line x1="153.6" y1="443.6" x2="196.5" y2="443.6" stroke-width="0.85"/>
<polygon points="84.4,443.6 89.6,442.65 89.6,444.55" fill="#1a1a1a" stroke="none"/>
<polygon points="196.5,443.6 191.3,444.55 191.3,442.65" fill="#1a1a1a" stroke="none"/>
<text x="128.2" y="446.7" font-size="9.6" textLength="24.8" lengthAdjust="spacingAndGlyphs">28.00</text>
</g>
<g id="spec">
<text x="469" y="46" font-size="10.4" textLength="75.2" lengthAdjust="spacingAndGlyphs" class="sp">SPECIFICATION</text>
<line x1="468.6" y1="47.6" x2="544.4" y2="47.6" stroke-width="1"/>
<text x="468.6" y="61" font-size="8.8" textLength="6.8" lengthAdjust="spacingAndGlyphs">A:</text>
<text x="482" y="61" font-size="8.8" textLength="39" lengthAdjust="spacingAndGlyphs">MATERIAL:</text>
<text x="481" y="72.4" font-size="8.8" textLength="41.6" lengthAdjust="spacingAndGlyphs">1.HOUSING:</text>
<text x="529" y="72.4" font-size="8.8" textLength="55" lengthAdjust="spacingAndGlyphs">PA66(BLACK),</text>
<text x="589" y="72.4" font-size="8.8" textLength="9" lengthAdjust="spacingAndGlyphs">UL</text>
<text x="603.6" y="72.4" font-size="8.8" textLength="25.4" lengthAdjust="spacingAndGlyphs">94V-0</text>
<text x="481" y="84" font-size="8.8" textLength="22" lengthAdjust="spacingAndGlyphs">2.PIN:</text>
<text x="509" y="84" font-size="8.8" textLength="30.6" lengthAdjust="spacingAndGlyphs">COPPER</text>
<text x="545" y="84" font-size="8.8" textLength="25" lengthAdjust="spacingAndGlyphs">ALLOY,</text>
<text x="575.6" y="84" font-size="8.8" textLength="26.4" lengthAdjust="spacingAndGlyphs">NICKEL</text>
<text x="607" y="84" font-size="8.8" textLength="28.6" lengthAdjust="spacingAndGlyphs">PLATED</text>
<text x="481" y="96" font-size="8.8" textLength="46" lengthAdjust="spacingAndGlyphs">3.TERMINAL:</text>
<text x="534" y="96" font-size="8.8" textLength="30.4" lengthAdjust="spacingAndGlyphs">COPPER</text>
<text x="569.6" y="96" font-size="8.8" textLength="25.6" lengthAdjust="spacingAndGlyphs">ALLOY,</text>
<text x="601" y="96" font-size="8.8" textLength="11.4" lengthAdjust="spacingAndGlyphs">TIN</text>
<text x="617.6" y="96" font-size="8.8" textLength="28" lengthAdjust="spacingAndGlyphs">PLATED</text>
<text x="468.6" y="113" font-size="8.8" textLength="6.8" lengthAdjust="spacingAndGlyphs">B:</text>
<text x="482" y="113" font-size="8.8" textLength="71" lengthAdjust="spacingAndGlyphs">CHARACTERISTICS:</text>
<text x="481" y="124.4" font-size="8.8" textLength="5" lengthAdjust="spacingAndGlyphs">1.</text>
<text x="492" y="124.4" font-size="8.8" textLength="29" lengthAdjust="spacingAndGlyphs">RATING:</text>
<text x="528" y="124.4" font-size="8.8" textLength="17" lengthAdjust="spacingAndGlyphs">2.5A</text>
<text x="550.4" y="124.4" font-size="8.8" textLength="25.2" lengthAdjust="spacingAndGlyphs">250V~</text>
<text x="581.4" y="124.4" font-size="8.8" textLength="84.2" lengthAdjust="spacingAndGlyphs">TUV,KC,CCC,CQC-PSE</text>
<text x="528" y="134.4" font-size="8.8" textLength="17" lengthAdjust="spacingAndGlyphs">2.5A</text>
<text x="550.4" y="134.4" font-size="8.8" textLength="25.2" lengthAdjust="spacingAndGlyphs">250V~</text>
<text x="581" y="134.4" font-size="8.8" textLength="6.8" lengthAdjust="spacingAndGlyphs">&amp;</text>
<text x="593" y="134.4" font-size="8.8" textLength="9" lengthAdjust="spacingAndGlyphs">7A</text>
<text x="607.6" y="134.4" font-size="8.8" textLength="24" lengthAdjust="spacingAndGlyphs">125V~</text>
<text x="637.6" y="134.4" font-size="8.8" textLength="8.8" lengthAdjust="spacingAndGlyphs">UL</text>
<text x="481" y="145.6" font-size="8.8" textLength="5" lengthAdjust="spacingAndGlyphs">2.</text>
<text x="493" y="145.6" font-size="8.8" textLength="43.6" lengthAdjust="spacingAndGlyphs">INSULATION</text>
<text x="542.6" y="145.6" font-size="8.8" textLength="48.4" lengthAdjust="spacingAndGlyphs">RESISTANCE:</text>
<text x="598" y="145.6" font-size="8.8" textLength="24.4" lengthAdjust="spacingAndGlyphs">100MΩ</text>
<text x="627.6" y="145.6" font-size="8.8" textLength="14.8" lengthAdjust="spacingAndGlyphs">MIN,</text>
<text x="648" y="145.6" font-size="8.8" textLength="9" lengthAdjust="spacingAndGlyphs">AT</text>
<text x="662.4" y="145.6" font-size="8.8" textLength="19.2" lengthAdjust="spacingAndGlyphs">500V</text>
<text x="687" y="145.6" font-size="8.8" textLength="9.6" lengthAdjust="spacingAndGlyphs">DC</text>
<text x="481" y="157" font-size="8.8" textLength="5" lengthAdjust="spacingAndGlyphs">3.</text>
<text x="493" y="157" font-size="8.8" textLength="35" lengthAdjust="spacingAndGlyphs">ELECTRIC</text>
<text x="533.6" y="157" font-size="8.8" textLength="40.8" lengthAdjust="spacingAndGlyphs">STRENGTH:</text>
<text x="581" y="157" font-size="8.8" textLength="9.6" lengthAdjust="spacingAndGlyphs">AC</text>
<text x="597" y="157" font-size="8.8" textLength="23" lengthAdjust="spacingAndGlyphs">2000V</text>
<text x="626" y="157" font-size="8.8" textLength="14" lengthAdjust="spacingAndGlyphs">FOR</text>
<text x="645.6" y="157" font-size="8.8" textLength="14.4" lengthAdjust="spacingAndGlyphs">ONE</text>
<text x="665.6" y="157" font-size="8.8" textLength="27" lengthAdjust="spacingAndGlyphs">MINUTE</text>
<text x="468.6" y="172.4" font-size="8.8" textLength="6.8" lengthAdjust="spacingAndGlyphs">C:</text>
<text x="482" y="172.4" font-size="8.8" textLength="47" lengthAdjust="spacingAndGlyphs">APPROVALS:</text>
<text x="481" y="184" font-size="8.8" textLength="11" lengthAdjust="spacingAndGlyphs">UL,</text>
<text x="498" y="184" font-size="8.8" textLength="15.6" lengthAdjust="spacingAndGlyphs">CUL,</text>
<text x="520" y="184" font-size="8.8" textLength="15.6" lengthAdjust="spacingAndGlyphs">TUV,</text>
<text x="541.6" y="184" font-size="8.8" textLength="11.4" lengthAdjust="spacingAndGlyphs">KC,</text>
<text x="559" y="184" font-size="8.8" textLength="58.6" lengthAdjust="spacingAndGlyphs">CCC&amp;CQC-PSE</text>
</g>
<g id="rev-table">
<line x1="268.4" y1="468.6" x2="469" y2="468.6" stroke-width="1.1"/>
<line x1="268.4" y1="478.6" x2="469" y2="478.6" stroke-width="1.1"/>
<line x1="268.4" y1="488.6" x2="469" y2="488.6" stroke-width="1.1"/>
<line x1="268.4" y1="498.6" x2="469" y2="498.6" stroke-width="1.1"/>
<line x1="268.4" y1="508.6" x2="469" y2="508.6" stroke-width="1.1"/>
<line x1="268.4" y1="518.6" x2="469" y2="518.6" stroke-width="1.1"/>
<line x1="268.4" y1="468.6" x2="268.4" y2="528.2" stroke-width="1.1"/>
<line x1="286.4" y1="468.6" x2="286.4" y2="528.2" stroke-width="1.1"/>
<line x1="326.4" y1="468.6" x2="326.4" y2="528.2" stroke-width="1.1"/>
<line x1="419" y1="468.6" x2="419" y2="528.2" stroke-width="1.1"/>
<text x="273.2" y="476.4" font-size="7" textLength="8.4" lengthAdjust="spacingAndGlyphs" class="tb">A4</text>
<text x="273.2" y="486.4" font-size="7" textLength="8.4" lengthAdjust="spacingAndGlyphs" class="tb">A3</text>
<text x="273.2" y="496.4" font-size="7" textLength="8.4" lengthAdjust="spacingAndGlyphs" class="tb">A2</text>
<text x="273.2" y="506.4" font-size="7" textLength="8.4" lengthAdjust="spacingAndGlyphs" class="tb">A1</text>
<text x="273.2" y="516.4" font-size="7" textLength="8.4" lengthAdjust="spacingAndGlyphs" class="tb">A0</text>
<text x="271.4" y="526.4" font-size="7" textLength="13.2" lengthAdjust="spacingAndGlyphs" class="tb">REV.</text>
<text x="288.2" y="516.4" font-size="7" textLength="35.8" lengthAdjust="spacing" class="tb">2021.04.13</text>
<text x="299" y="526.4" font-size="7" textLength="14.4" lengthAdjust="spacingAndGlyphs" class="tb">DATE</text>
<text x="347" y="516.4" font-size="7" textLength="46.6" lengthAdjust="spacingAndGlyphs" class="tb">NEW  REVISION</text>
<text x="351" y="526.4" font-size="7" textLength="37.6" lengthAdjust="spacingAndGlyphs" class="tb">DESCRIPTION</text>
<text x="434" y="515.4" font-size="7" textLength="19" lengthAdjust="spacing" class="tb">----</text>
<text x="431.6" y="526.4" font-size="7" textLength="25.4" lengthAdjust="spacingAndGlyphs" class="tb">ECN  NO.</text>
</g>
<g id="title-block">
<line x1="469" y1="437.6" x2="751.2" y2="437.6" stroke-width="1.1"/>
<line x1="469" y1="437.6" x2="469" y2="528.2" stroke-width="1.1"/>
<line x1="469" y1="468.5" x2="619.5" y2="468.5" stroke-width="1.1"/>
<line x1="469" y1="507" x2="619.5" y2="507" stroke-width="1.1"/>
<line x1="619.5" y1="437.6" x2="619.5" y2="528.2" stroke-width="1.1"/>
<line x1="479.4" y1="507" x2="479.4" y2="528.2" stroke-width="1.1"/>
<line x1="515.6" y1="507" x2="515.6" y2="528.2" stroke-width="1.1"/>
<line x1="549" y1="507" x2="549" y2="528.2" stroke-width="1.1"/>
<line x1="582" y1="507" x2="582" y2="528.2" stroke-width="1.1"/>
<line x1="619.5" y1="461.4" x2="751.2" y2="461.4" stroke-width="1.1"/>
<line x1="619.5" y1="485" x2="751.2" y2="485" stroke-width="1.1"/>
<line x1="689.4" y1="437.6" x2="689.4" y2="485" stroke-width="1.1"/>
<line x1="619.5" y1="496.3" x2="707" y2="496.3" stroke-width="1.1"/>
<line x1="648.6" y1="485" x2="648.6" y2="528.2" stroke-width="1.1"/>
<line x1="676.4" y1="485" x2="676.4" y2="528.2" stroke-width="1.1"/>
<line x1="707" y1="485" x2="707" y2="528.2" stroke-width="1.1"/>
<line x1="707" y1="506.8" x2="751.2" y2="506.8" stroke-width="1.1"/>
<path d="M482,441.7 L491.9,447.4 L491.9,458.9 L482,464.6 L472.1,458.9 L472.1,447.4 Z" stroke-width="0.5" fill="#111"/>
<path d="M478.4,451.8 L483.4,449 L485,449.9 L485,459.9 L482.4,461.3 L482.4,452.4 L479.6,453.9 Z M487.2,448.7 L489.5,447.5 L489.5,457.7 L487.2,459 Z M475.4,453.2 L479.6,455.4 L479.6,456.5 L475.4,454.3 Z M475.4,455.9 L479.6,458.1 L479.6,459.2 L475.4,457 Z M476.4,459 L480.4,461 L480.4,462 L476.4,460 Z" stroke-width="0.1" fill="#fff" stroke="#fff"/>
<text x="496.2" y="452.9" font-size="12" textLength="120.6" lengthAdjust="spacingAndGlyphs" class="cn">广东博滔电子有限公司</text>
<text x="494.6" y="462.3" font-size="6.4" textLength="123" lengthAdjust="spacingAndGlyphs" font-weight="700">GUANGDONG BOYTALL ELECTRONICS CO.,LTD</text>
<text x="471.6" y="475" font-size="6.7" textLength="61.4" lengthAdjust="spacingAndGlyphs" class="tb">COMMON  TOLERANCE</text>
<text x="471.6" y="483.6" font-size="6.7" textLength="32.4" lengthAdjust="spacingAndGlyphs" class="tb">DIMENSION:</text>
<text x="536" y="483.6" font-size="6.7" textLength="28" lengthAdjust="spacingAndGlyphs" class="tb">ANGULAR:</text>
<text x="471.6" y="491.2" font-size="6.7" textLength="36" lengthAdjust="spacingAndGlyphs" class="tb">.000  :  ±0.1</text>
<text x="471.6" y="497.8" font-size="6.7" textLength="36.4" lengthAdjust="spacingAndGlyphs" class="tb">.00    :  ±0.2</text>
<text x="471.6" y="504.6" font-size="6.7" textLength="36.4" lengthAdjust="spacingAndGlyphs" class="tb">.0      :  ±0.3</text>
<text x="547" y="491.2" font-size="6.7" textLength="8.4" lengthAdjust="spacingAndGlyphs" class="tb">±3'</text>
<text x="472.6" y="515.6" font-size="6.7" textLength="3.6" lengthAdjust="spacingAndGlyphs" class="tb">A</text>
<text x="472.6" y="523.8" font-size="6.7" textLength="3.6" lengthAdjust="spacingAndGlyphs" class="tb">4</text>
<circle cx="488.8" cy="517.8" r="5.6" stroke-width="1" fill="none"/>
<circle cx="488.8" cy="517.8" r="3.1" stroke-width="1" fill="none"/>
<line x1="481.4" y1="517.8" x2="513.6" y2="517.8" stroke-width="0.7"/>
<line x1="488.8" y1="510.4" x2="488.8" y2="525.2" stroke-width="0.7"/>
<path d="M497,515 L511.5,513 L511.5,522.6 L497,520.6 Z" stroke-width="1" fill="none"/>
<text x="526.6" y="512.5" font-size="6.7" textLength="12.4" lengthAdjust="spacingAndGlyphs" class="tb">UNIT</text>
<text x="528" y="522.4" font-size="6.7" textLength="9" lengthAdjust="spacingAndGlyphs" class="tb">mm</text>
<text x="556.4" y="512.5" font-size="6.7" textLength="17.2" lengthAdjust="spacingAndGlyphs" class="tb">SCALE</text>
<text x="557.6" y="522.5" font-size="6.7" textLength="14.4" lengthAdjust="spacingAndGlyphs" class="tb">1  :  1</text>
<text x="591.6" y="512.5" font-size="6.7" textLength="17.4" lengthAdjust="spacingAndGlyphs" class="tb">SHEET</text>
<text x="592.4" y="522.5" font-size="6.7" textLength="17.6" lengthAdjust="spacingAndGlyphs" class="tb">1  of  1</text>
<text x="622" y="445" font-size="6.7" textLength="30" lengthAdjust="spacingAndGlyphs" class="tb">PART  NO.:</text>
<text x="628" y="455.2" font-size="6.7" textLength="50.6" lengthAdjust="spacing" class="tb">BT-8-2AA-P10</text>
<text x="622" y="468.8" font-size="6.7" textLength="34" lengthAdjust="spacingAndGlyphs" class="tb">MODEL  NO.:</text>
<text x="639.6" y="478.9" font-size="6.7" textLength="30.4" lengthAdjust="spacing" class="tb">BT-8-2A</text>
<text x="621.6" y="493" font-size="6.7" textLength="25" lengthAdjust="spacingAndGlyphs" class="tb">DESIGNER</text>
<text x="651" y="493" font-size="6.7" textLength="23.4" lengthAdjust="spacingAndGlyphs" class="tb">CHECKED</text>
<text x="678.4" y="493" font-size="6.7" textLength="26.6" lengthAdjust="spacingAndGlyphs" class="tb">APPROVED</text>
<text x="691" y="444" font-size="6.7" textLength="17" lengthAdjust="spacingAndGlyphs" class="tb">NAME:</text>
<text x="691" y="454.6" font-size="6.9" textLength="58.6" lengthAdjust="spacingAndGlyphs" class="tb">AC  INLET  2P  SOCKET</text>
<text x="691" y="467.6" font-size="6.7" textLength="19" lengthAdjust="spacingAndGlyphs" class="tb">SPEC.:</text>
<text x="696.6" y="480.1" font-size="6.7" textLength="47.4" lengthAdjust="spacingAndGlyphs" class="tb">IEC  60320-1,  C8</text>
<text x="709" y="491" font-size="6.7" textLength="16" lengthAdjust="spacingAndGlyphs" class="tb">NOTE:</text>
<text x="709" y="512.5" font-size="6.7" textLength="27.6" lengthAdjust="spacingAndGlyphs" class="tb">FILE  NO.:</text>
<text x="715" y="523" font-size="6.7" textLength="29" lengthAdjust="spacing" class="tb">S8-0010</text>
</g>
</svg>
</body>
</html>
